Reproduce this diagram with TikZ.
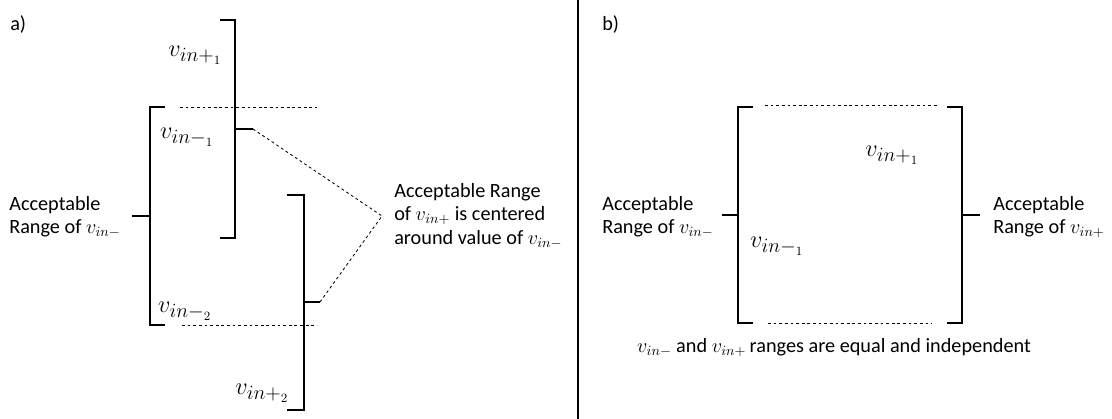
\documentclass[tikz,border=0pt]{standalone}
\usepackage{fontspec}
\setmainfont{Carlito}
\usepackage{tikz}
\usetikzlibrary{positioning}

\begin{document}
\begin{tikzpicture}[x=0.025cm, y=-0.025cm]
    % Styles
    \tikzstyle{rangebar} = [line width=1.6pt, line join=miter]
    \tikzstyle{guide} = [line width=0.6pt, dash pattern=on 2pt off 2pt]
    \tikzstyle{txt} = [inner sep=0pt, align=left, anchor=west, font=\fontsize{14.4}{16.7}\selectfont]
    \tikzstyle{sym} = [inner sep=0pt, font=\fontsize{19}{22}\selectfont]

    \useasboundingbox (0,0) rectangle (1112,419);

    % Panel a
    \node [txt] (tagA) at (10,25) {a)};
    \node [txt] (minusA) at (9,217) {Acceptable\\Range of $v_{in-}$};
    \node [sym] (plusoneA) at (195,55) {$v_{in{+}_1}$};
    \node [sym] (minusoneA) at (187,137) {$v_{in{-}_1}$};
    \node [sym] (minustwoA) at (185,311) {$v_{in{-}_2}$};
    \node [sym] (plustwoA) at (262,393) {$v_{in{+}_2}$};
    \node [txt] (noteA) at (394,216) {Acceptable Range\\of $v_{in+}$ is centered\\around value of $v_{in-}$};

    % Brackets a
    \draw [rangebar] (165,107) -| (150,325) -- (165,325);
    \draw [rangebar] (150,216) -- ++(-18,0);
    \draw [rangebar] (220,20) -| (235,238) -- (220,238);
    \draw [rangebar] (235,129) -- ++(18,0) coordinate (tipone);
    \draw [rangebar] (287,195) -| (304,410) -- (287,410);
    \draw [rangebar] (304,302) -- ++(16,0) coordinate (tiptwo);
    \draw [guide] (180,107) -- (317,107);
    \draw [guide] (182,325) -- (317,325);
    \coordinate (apex) at (382,216);
    \draw [guide] (tipone) -- (apex) -- (tiptwo);

    % Divider
    \draw [line width=1.6pt] (578,0) -- (578,419);

    % Panel b
    \node [txt] (tagB) at (602,25) {b)};
    \node [txt] (minusB) at (602,217) {Acceptable\\Range of $v_{in-}$};
    \node [txt] (plusB) at (993,217) {Acceptable\\Range of $v_{in+}$};
    \node [sym] (plusoneB) at (892,155) {$v_{in{+}_1}$};
    \node [sym] (minusoneB) at (777,246) {$v_{in{-}_1}$};
    \node [txt, anchor=center] (capB) at (834,348) {$v_{in-}$ and $v_{in+}$\,ranges are equal and independent};

    % Brackets b
    \draw [rangebar] (753,107) -| (738,323) -- (753,323);
    \draw [rangebar] (738,215) -- ++(-16,0);
    \draw [rangebar] (947,107) -| (962,323) -- (947,323);
    \draw [rangebar] (962,215) -- ++(18,0);
    \draw [guide] (765,105) -- (938,105);
    \draw [guide] (768,323) -- (932,323);
\end{tikzpicture}
\end{document}
